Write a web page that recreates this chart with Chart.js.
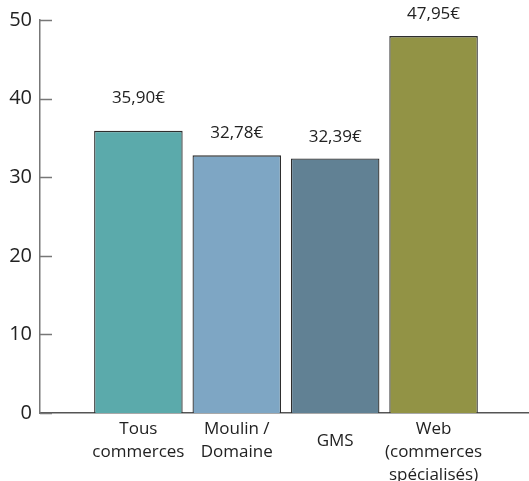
<!DOCTYPE html>
<html>
<head>
<meta charset="utf-8">
<script src="https://cdn.jsdelivr.net/npm/chart.js@4/dist/chart.umd.min.js"></script>
<style>
  html, body { margin: 0; padding: 0; background: #fff; }
  canvas { display: block; }
</style>
</head>
<body>
<canvas id="chart" width="529" height="481"></canvas>
<script>
const categories = [
    ["Tous", "commerces"],
    ["Moulin /", "Domaine"],
    ["GMS"],
    ["Web", "(commerces", "spécialisés)"]
];
const values = [35.90, 32.78, 32.39, 47.95];
const valueLabels = ["35,90€", "32,78€", "32,39€", "47,95€"];
const yTicks = [0, 10, 20, 30, 40, 50];
const barColors = ["#5baaab", "#7ea6c4", "#618194", "#929345"];

const FONT = "'Open Sans', sans-serif";
const labelLift = [33, 22, 21, 22];

// bars sit at positions 1..4 on a numeric x axis, leaving room on the left like the original
const points = values.map((v, i) => ({ x: i + 1, y: v }));

const innerTicks = {
    id: "innerTicks",
    afterDraw(chart) {
        const { ctx, chartArea, scales } = chart;
        ctx.save();
        ctx.strokeStyle = "#777";
        ctx.lineWidth = 1.5;
        scales.y.ticks.forEach(t => {
            const py = Math.round(scales.y.getPixelForValue(t.value)) + 0.5;
            ctx.beginPath();
            ctx.moveTo(chartArea.left, py);
            ctx.lineTo(chartArea.left + 12, py);
            ctx.stroke();
        });
        ctx.restore();
    }
};

const valueText = {
    id: "valueText",
    afterDatasetsDraw(chart) {
        const { ctx } = chart;
        const bars = chart.getDatasetMeta(0).data;
        ctx.save();
        ctx.font = "17px " + FONT;
        ctx.fillStyle = "#222";
        ctx.textAlign = "center";
        ctx.textBaseline = "middle";
        bars.forEach((bar, i) => {
            ctx.fillText(valueLabels[i], bar.x, bar.y - labelLift[i]);
        });
        ctx.restore();
    }
};

new Chart(document.getElementById("chart"), {
    type: "bar",
    data: {
        datasets: [{
            data: points,
            backgroundColor: barColors,
            borderColor: "#2e2e2e",
            borderWidth: 1.3,
            barPercentage: 0.9,
            categoryPercentage: 1
        }]
    },
    options: {
        responsive: false,
        animation: false,
        layout: { padding: { top: 20, right: 0, bottom: 0, left: 0 } },
        plugins: {
            legend: { display: false },
            tooltip: { enabled: false }
        },
        scales: {
            x: {
                type: "linear",
                min: 0,
                max: 4.97,
                offset: false,
                afterBuildTicks(scale) {
                    scale.ticks = categories.map((c, i) => ({ value: i + 1 }));
                },
                grid: { display: false, drawTicks: false },
                border: { display: true, color: "#555", width: 1.5 },
                ticks: {
                    color: "#222",
                    padding: 5,
                    maxRotation: 0,
                    autoSkip: false,
                    callback: v => categories[v - 1],
                    font: ctx => ({
                        family: FONT,
                        size: 17,
                        lineHeight: ctx.tick && categories[ctx.tick.value - 1].length === 1 ? "46px" : "23px"
                    })
                },
                afterFit(scale) { scale.height = 68; }
            },
            y: {
                min: 0,
                max: 50,
                afterBuildTicks(scale) {
                    scale.ticks = yTicks.map(v => ({ value: v }));
                },
                grid: { display: false, drawTicks: false },
                border: { display: true, color: "#777", width: 1.5 },
                ticks: {
                    color: "#222",
                    padding: 8,
                    font: { family: FONT, size: 20 }
                },
                afterFit(scale) { scale.width = 40; }
            }
        }
    },
    plugins: [innerTicks, valueText]
});
</script>
</body>
</html>
